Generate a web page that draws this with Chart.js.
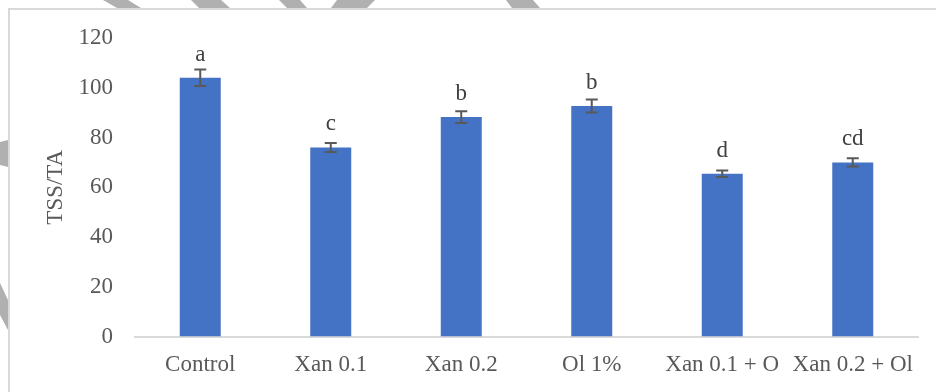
<!DOCTYPE html>
<html>
<head>
<meta charset="utf-8">
<script src="https://cdn.jsdelivr.net/npm/chart.js@4/dist/chart.umd.min.js"></script>
<style>
  html, body { margin: 0; padding: 0; background: #fff; }
  #wrap { position: relative; width: 936px; height: 392px; overflow: hidden; }
  #frame { position: absolute; left: 8px; top: 8px; width: 1000px; height: 500px;
           border-left: 2px solid #d9d9d9; border-top: 2px solid #d9d9d9; box-sizing: border-box; }
  #deco { position: absolute; left: 0; top: 0; }
  canvas { position: absolute; left: 0; top: 0; }
</style>
</head>
<body>
<div id="wrap">
  <svg id="deco" width="936" height="392">
    <g fill="#b0b0b0">
      <polygon points="103,0 128,0 141,8 117,8"/>
      <polygon points="191,0 221,0 230,8 199,8"/>
      <polygon points="279,0 300,0 307,8 287,8"/>
      <polygon points="337,0 375,0 367,8 331,8"/>
      <polygon points="506,0 533,0 540,8 512,8"/>
      <polygon points="0,142 8,140 8,167 0,165"/>
      <polygon points="0,283 8,300 8,330 0,315"/>
    </g>
  </svg>
  <div id="frame"></div>
  <canvas id="c" width="936" height="392"></canvas>
</div>
<script>
// Treatments and their TSS/TA ratios
const categories = ['Control', 'Xan 0.1', 'Xan 0.2', 'Ol 1%', 'Xan 0.1 + O', 'Xan 0.2 + Ol'];
const tssTa = [104, 76, 88.2, 92.7, 65.4, 70];
const errors = [3.3, 1.8, 2.4, 2.6, 1.3, 1.7];
const letters = ['a', 'c', 'b', 'b', 'd', 'cd'];
const yTicks = [0, 20, 40, 60, 80, 100, 120];

const FONT = '"Liberation Serif", "Times New Roman", serif';
const TEXT = '#595959';

// Error bars plus significance letters above each bar
const annotate = {
  id: 'annotate',
  afterDatasetsDraw(chart) {
    const ctx = chart.ctx;
    const x = chart.scales.x, y = chart.scales.y;
    ctx.save();
    ctx.strokeStyle = '#595959';
    ctx.lineWidth = 2;
    tssTa.forEach((v, i) => {
      const cx = x.getPixelForValue(i);
      const top = y.getPixelForValue(v + errors[i]);
      const bot = y.getPixelForValue(v - errors[i]);
      ctx.beginPath();
      ctx.moveTo(cx, top); ctx.lineTo(cx, bot);
      ctx.moveTo(cx - 6, top); ctx.lineTo(cx + 6, top);
      ctx.moveTo(cx - 6, bot); ctx.lineTo(cx + 6, bot);
      ctx.stroke();
    });
    ctx.fillStyle = '#404040';
    ctx.font = '23px ' + FONT;
    ctx.textAlign = 'center';
    ctx.textBaseline = 'alphabetic';
    tssTa.forEach((v, i) => {
      const cx = x.getPixelForValue(i);
      ctx.fillText(letters[i], cx, y.getPixelForValue(v) - 17);
    });
    ctx.restore();
  }
};

new Chart(document.getElementById('c'), {
  type: 'bar',
  data: {
    labels: categories,
    datasets: [{
      data: tssTa,
      backgroundColor: '#4472C4',
      borderWidth: 0,
      barPercentage: 0.314,
      categoryPercentage: 1
    }]
  },
  options: {
    responsive: false,
    animation: false,
    layout: { padding: { left: 0, right: 18, top: 38, bottom: 0 } },
    plugins: { legend: { display: false }, tooltip: { enabled: false } },
    scales: {
      x: {
        grid: { display: false, drawTicks: false },
        border: { display: true, color: '#d9d9d9', width: 2 },
        ticks: { color: TEXT, font: { family: FONT, size: 23 }, padding: 15, maxRotation: 0, autoSkip: false },
        afterFit(s) { s.height = 55.5; }
      },
      y: {
        min: 0, max: 120,
        afterBuildTicks(s) { s.ticks = yTicks.map(v => ({ value: v })); },
        grid: { display: false, drawTicks: false },
        border: { display: false },
        ticks: { color: TEXT, font: { family: FONT, size: 23 }, padding: 22 },
        title: { display: true, text: 'TSS/TA', color: TEXT, font: { family: FONT, size: 23 }, padding: { top: 42, bottom: 0 } },
        afterFit(s) { s.width = 135; }
      }
    }
  },
  plugins: [annotate]
});
</script>
</body>
</html>
